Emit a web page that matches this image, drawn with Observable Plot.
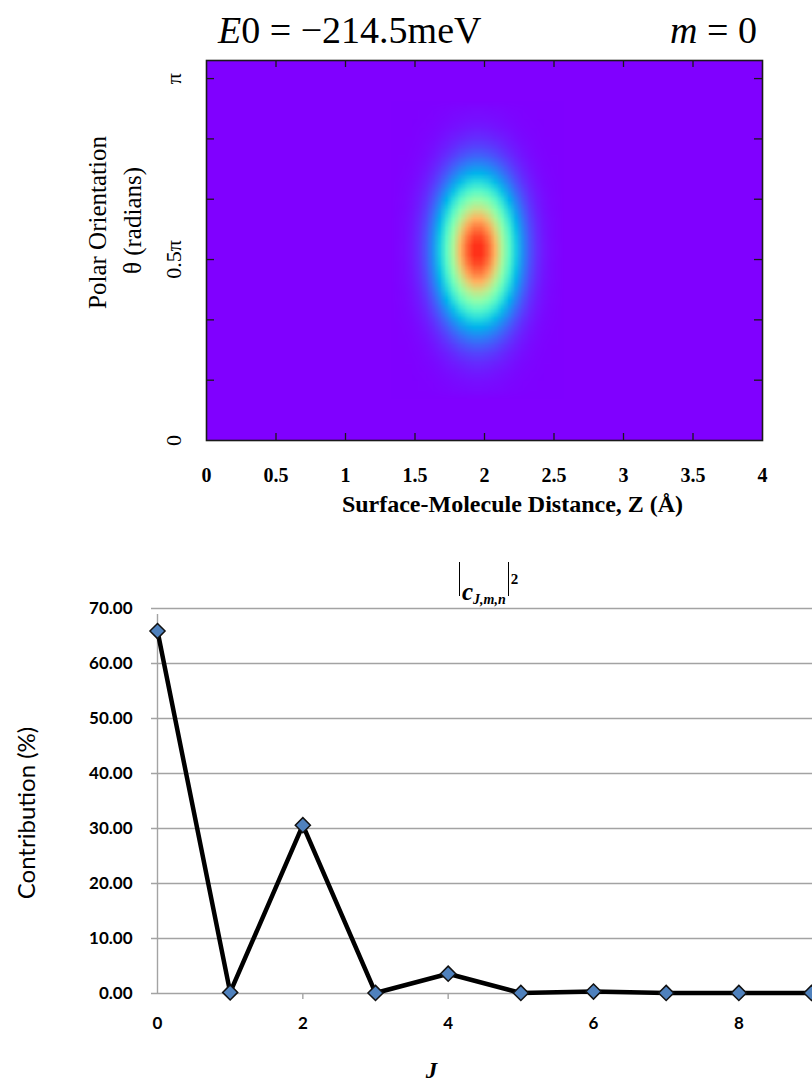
<!DOCTYPE html>
<html>
<head>
<meta charset="utf-8">
<script src="https://cdn.jsdelivr.net/npm/d3@7"></script>
<script src="https://cdn.jsdelivr.net/npm/@observablehq/plot@0.6"></script>
<style>
  body { margin: 0; background: #fff; }
  #page { position: relative; width: 812px; height: 1084px; overflow: hidden; background: #fff; }
  #top, #bottom { position: absolute; left: 0; }
  #top { top: 0; }
  #bottom { top: 530px; }
  .math { position: absolute; font-family: "Liberation Serif", "Times New Roman", serif; color: #000; white-space: nowrap; }
  #energy { left: 218px; top: 11px; font-size: 38px; line-height: 38px; }
  #mlabel { right: 55px; top: 11px; font-size: 38px; line-height: 38px; }
  #coef { left: 457px; top: 562px; font-size: 25px; line-height: 34px; height: 34px; font-weight: bold; }
  #coef .bar { display: inline-block; width: 0; height: 34px; border-left: 1.4px solid #000; vertical-align: top; margin: 0 2px; }
  #coef sub { font-size: 14px; font-style: italic; vertical-align: -4px; }
  #coef sup { font-size: 15px; vertical-align: 16px; }
</style>
</head>
<body>
<div id="page">
  <div id="top"></div>
  <div id="bottom"></div>
  <div class="math" id="energy"><i>E</i>0 = −214.5meV</div>
  <div class="math" id="mlabel"><i>m</i> = 0</div>
  <div class="math" id="coef"><span class="bar"></span><i>c</i><sub>J,m,n</sub><span class="bar"></span><sup>2</sup></div>
</div>
<script>
// ---- Probability density |ψ(Z, θ)|² ----
// Distance profile across the peak (Z in Å, sampled every 0.05 Å)
const zSample = [1.375, 1.425, 1.475, 1.525, 1.575, 1.625, 1.675, 1.725, 1.775, 1.825, 1.875, 1.925,
                 1.975, 2.025, 2.075, 2.125, 2.175, 2.225, 2.275, 2.325, 2.375, 2.425, 2.475, 2.525];
const zWeight = [0.006, 0.014, 0.031, 0.062, 0.114, 0.196, 0.311, 0.458, 0.623, 0.786, 0.917, 0.99,
                 0.99, 0.917, 0.786, 0.623, 0.458, 0.311, 0.196, 0.114, 0.062, 0.031, 0.014, 0.006];
// Polar profile across the peak (θ in units of π, sampled every 0.025π)
const thetaSample = [0.1375, 0.1625, 0.1875, 0.2125, 0.2375, 0.2625, 0.2875, 0.3125, 0.3375, 0.3625, 0.3875,
                     0.4125, 0.4375, 0.4625, 0.4875, 0.5125, 0.5375, 0.5625, 0.5875, 0.6125, 0.6375, 0.6625,
                     0.6875, 0.7125, 0.7375, 0.7625, 0.7875, 0.8125, 0.8375, 0.8625, 0.8875, 0.9125];
const thetaWeight = [0.012, 0.020, 0.034, 0.056, 0.087, 0.130, 0.188, 0.263, 0.353, 0.458, 0.572,
                     0.688, 0.797, 0.891, 0.959, 0.995, 0.995, 0.959, 0.891, 0.797, 0.688, 0.572,
                     0.458, 0.353, 0.263, 0.188, 0.130, 0.087, 0.056, 0.034, 0.020, 0.012];

const zTicks = [0, 0.5, 1, 1.5, 2, 2.5, 3, 3.5, 4];
const thetaLabels = [0, 0.5, 1];                       // in units of π
const thetaFrameTicks = [1/6, 2/6, 3/6, 4/6, 5/6, 1];  // in units of π
const thetaMax = 1.05;

// ---- Rotational-state contributions ----
const J = [0, 1, 2, 3, 4, 5, 6, 7, 8, 9];
const contribution = [65.9, 0.2, 30.6, 0.1, 3.6, 0.1, 0.35, 0.1, 0.1, 0.1];
const contributionTicks = [0, 10, 20, 30, 40, 50, 60, 70];
const jTicks = [0, 2, 4, 6, 8];

// matplotlib-style "rainbow" colour ramp (purple → blue → cyan → green → yellow → red)
function rainbow(t) {
  t = Math.max(0, Math.min(1, t));
  const r = Math.min(1, Math.abs(2 * t - 0.5));
  const g = Math.sin(Math.PI * t);
  const b = Math.cos(Math.PI * t / 2);
  return `rgb(${Math.round(255 * r)},${Math.round(255 * g)},${Math.round(255 * b)})`;
}

// Full raster grid (80 × 42 cells); cells away from the peak are zero
const zCols = 80, tRows = 42;
const zLookup = new Map(zSample.map((z, i) => [z.toFixed(3), zWeight[i]]));
const tLookup = new Map(thetaSample.map((t, i) => [t.toFixed(4), thetaWeight[i]]));
const grid = [];
for (let i = 0; i < zCols; i++) {
  const z = 0.025 + 0.05 * i;
  const wz = zLookup.get(z.toFixed(3)) ?? 0;
  for (let j = 0; j < tRows; j++) {
    const t = 0.0125 + 0.025 * j;
    const wt = tLookup.get(t.toFixed(4)) ?? 0;
    grid.push({z, t, v: wz * wt});
  }
}

const serif = "Liberation Serif, Times New Roman, serif";
const frameColor = "#1a1a1a";

const topChart = Plot.plot({
  width: 812,
  height: 530,
  marginTop: 60,
  marginBottom: 90,
  marginLeft: 206,
  marginRight: 50,
  x: {domain: [0, 4], axis: null},
  y: {domain: [0, thetaMax], axis: null},
  color: {type: "linear", domain: [0, 1.05], interpolate: rainbow},
  marks: [
    Plot.raster(grid, {
      x: "z", y: "t", fill: "v",
      x1: 0, x2: 4, y1: 0, y2: thetaMax,
      width: zCols, height: tRows,
      imageRendering: "auto"
    }),
    // inward tick marks on all four sides
    Plot.tickX(zTicks.slice(1, -1), {x: d => d, insetTop: 373, stroke: frameColor, strokeWidth: 1.3}),
    Plot.tickX(zTicks.slice(1, -1), {x: d => d, insetBottom: 373, stroke: frameColor, strokeWidth: 1.3}),
    Plot.tickY(thetaFrameTicks, {y: d => d, insetRight: 548, stroke: frameColor, strokeWidth: 1.3}),
    Plot.tickY(thetaFrameTicks, {y: d => d, insetLeft: 548, stroke: frameColor, strokeWidth: 1.3}),
    Plot.frame({stroke: frameColor, strokeWidth: 1.6}),
    Plot.axisX(zTicks, {
      tickSize: 0, tickPadding: 27, label: null, tickFormat: d => String(d),
      fontSize: 20, fontWeight: "bold", fontFamily: serif, fill: "#000"
    }),
    Plot.text(thetaLabels, {
      y: d => d, frameAnchor: "left", dx: -33, rotate: -90,
      textAnchor: "middle", lineAnchor: "middle",
      text: d => d === 0 ? "0" : d === 1 ? "π" : `${d}π`,
      fontSize: 22, fontFamily: serif, fill: "#000"
    }),
    Plot.text(["Surface-Molecule Distance, Z (Å)"], {
      text: d => d, frameAnchor: "bottom", dx: 28, dy: 64,
      textAnchor: "middle", lineAnchor: "middle",
      fontSize: 24, fontWeight: "bold", fontFamily: serif, fill: "#000"
    }),
    Plot.text(["Polar Orientation"], {
      text: d => d, frameAnchor: "left", rotate: -90, dx: -109, dy: -28,
      textAnchor: "middle", lineAnchor: "middle",
      fontSize: 25, fontFamily: serif, fill: "#000"
    }),
    Plot.text(["θ (radians)"], {
      text: d => d, frameAnchor: "left", rotate: -90, dx: -74, dy: -30,
      textAnchor: "middle", lineAnchor: "middle",
      fontSize: 25, fontFamily: serif, fill: "#000"
    })
  ]
});

const sans = "Lato, Calibri, Carlito, sans-serif";
const gridColor = "#a3a3a3";

const bottomChart = Plot.plot({
  width: 812,
  height: 554,
  marginTop: 78,
  marginBottom: 91,
  marginLeft: 157,
  marginRight: 1,
  x: {domain: [0, 9], axis: null},
  y: {domain: [0, 70], axis: null},
  marks: [
    Plot.ruleY(contributionTicks, {y: d => d, stroke: gridColor, strokeWidth: 1.4, insetLeft: -6, insetRight: -2}),
    Plot.ruleX([0], {x: d => d, y1: 0, y2: 70, stroke: gridColor, strokeWidth: 1.4, insetBottom: -6}),
    Plot.tickX(jTicks.slice(1), {x: d => d, insetTop: 385, insetBottom: -6, stroke: gridColor, strokeWidth: 1.4}),
    Plot.line(J.map((j, i) => ({j, c: contribution[i]})), {
      x: "j", y: "c", stroke: "#000", strokeWidth: 4.5, strokeLinejoin: "miter"
    }),
    Plot.dot(J.map((j, i) => ({j, c: contribution[i]})), {
      x: "j", y: "c", symbol: "diamond2", r: 6.8,
      fill: "#4f81bd", stroke: "#111", strokeWidth: 1.5
    }),
    Plot.axisY(contributionTicks, {
      tickSize: 0, tickPadding: 25, label: null, tickFormat: d => d.toFixed(2),
      fontSize: 17, fontWeight: "bold", fontFamily: sans, fill: "#000"
    }),
    Plot.axisX(jTicks, {
      tickSize: 0, tickPadding: 23, label: null,
      fontSize: 17, fontWeight: "bold", fontFamily: sans, fill: "#000"
    }),
    Plot.text(["Contribution (%)"], {
      text: d => d, frameAnchor: "left", rotate: -90, dx: -130, dy: 12,
      textAnchor: "middle", lineAnchor: "middle",
      fontSize: 24, fontFamily: sans, fill: "#000"
    }),
    Plot.text(["J"], {
      text: d => d, frameAnchor: "bottom", dx: -53, dy: 77,
      textAnchor: "middle", lineAnchor: "middle",
      fontSize: 23, fontWeight: "bold", fontStyle: "italic", fontFamily: serif, fill: "#000"
    })
  ]
});

document.getElementById("top").append(topChart);
document.getElementById("bottom").append(bottomChart);
</script>
</body>
</html>
